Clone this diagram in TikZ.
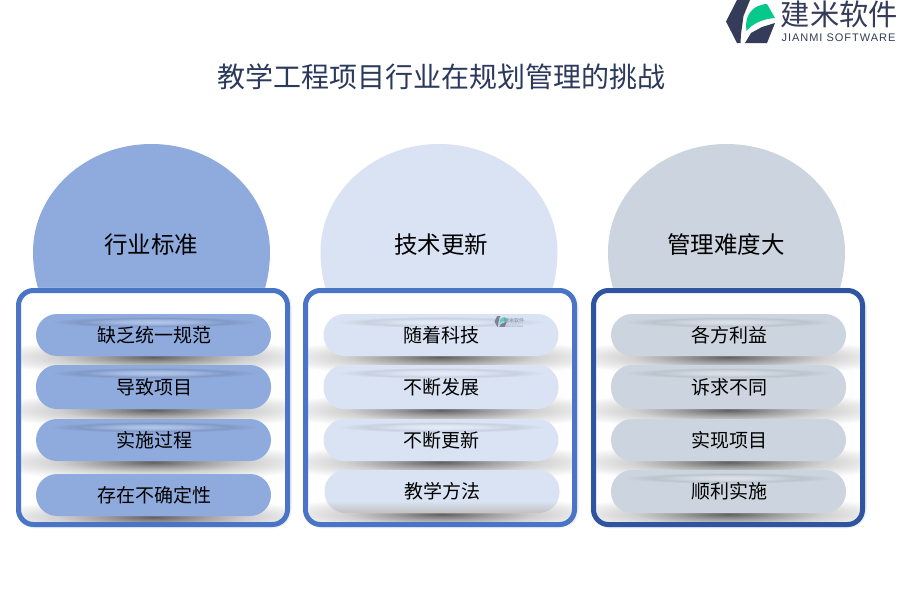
\documentclass[tikz,border=0pt]{standalone}
\usepackage{fontspec}
\setmainfont{Liberation Sans}
\newfontfamily\cjkf{Noto Sans CJK SC}
\definecolor{cA}{HTML}{8FAADC}
\definecolor{cB}{HTML}{DAE3F3}
\definecolor{cC}{HTML}{CCD5DF}
\definecolor{bA}{HTML}{4A74C6}
\definecolor{bC}{HTML}{2F55A0}
\definecolor{inkT}{HTML}{2B3A5C}
\definecolor{logoD}{HTML}{343C5A}
\definecolor{logoG}{HTML}{05C98A}
\pgfdeclareradialshading{bandshade}{\pgfpoint{0bp}{0bp}}{
  color(0bp)=(black!62);color(4bp)=(black!52);color(10bp)=(black!36);color(18bp)=(black!18);
  color(25bp)=(black!9);color(33bp)=(white);color(50bp)=(white)}
\pgfdeclareradialshading{glossA}{\pgfpoint{0bp}{0bp}}{
  color(0bp)=(cA!65!white);color(9bp)=(cA!82!white);color(18bp)=(cA!90!black);color(25bp)=(cA);color(50bp)=(cA)}
\pgfdeclareradialshading{glossB}{\pgfpoint{0bp}{0bp}}{
  color(0bp)=(cB!65!white);color(9bp)=(cB!92!white);color(18bp)=(cB!92!black);color(25bp)=(cB);color(50bp)=(cB)}
\pgfdeclareradialshading{glossC}{\pgfpoint{0bp}{0bp}}{
  color(0bp)=(cC!65!white);color(9bp)=(cC!92!white);color(18bp)=(cC!92!black);color(25bp)=(cC);color(50bp)=(cC)}
\tikzset{
  discLabel/.style={font=\cjkf\fontsize{23.5}{26}\selectfont,inner sep=0pt,text=black},
  panel/.style={draw=#1,line width=5pt,rounded corners=15pt},
  glow/.style={draw=#1!10,line width=6.5pt,rounded corners=16pt},
  pill/.style={rectangle,rounded corners=21pt,fill=#1,inner sep=0pt},
  pillLabel/.style={font=\cjkf\fontsize{19}{22}\selectfont,inner sep=0pt,text=black},
  maintitle/.style={font=\cjkf\fontsize{28}{30}\selectfont,text=inkT,inner sep=0pt}
}
\newcommand{\discshape}[2]{%
  \fill[#2] (#1-118.5,252) arc [start angle=180,end angle=0,x radius=118.5pt,y radius=108pt]
    arc [start angle=0,end angle=-180,x radius=118.5pt,y radius=125pt] -- cycle;
}
\newcommand{\bandunder}[2]{%
  \begin{scope}
    \clip (#1-133,#2-14) rectangle (#1+133,{min(#2+15,522)});
    \shade[shading=bandshade] (#1-133,#2-13) rectangle (#1+133,#2+15);
  \end{scope}
}
% cx, top, bottom, colour, gloss shading, name, text
\newcommand{\pillrow}[7]{%
  \bandunder{#1}{#3}
  \node[pill=#4,minimum width=235pt,minimum height={(#3-#2)*1pt}] (#6) at (#1,{(#2+#3)/2}) {};
  \shade[shading=#5] (#1,#2+8) ellipse [x radius=104pt,y radius=5.5pt];
  \node[pillLabel] (#6t) at (#1+.5,{(#2+#3)/2}) {#7};
}
\newcommand{\pillplain}[6]{%
  \bandunder{#1}{#3}
  \node[pill=#4,minimum width=235pt,minimum height={(#3-#2)*1pt}] (#5) at (#1,{(#2+#3)/2}) {};
  \node[pillLabel] (#5t) at (#1+.5,{(#2+#3)/2}) {#6};
}
\newcommand{\logoshapes}{%
  \fill[logoD] (737,0) -- (750,0) -- (743.5,16) -- (741,34) -- (740.5,43) -- (737,43) -- (726,21.5) -- cycle;
  \fill[logoD] (745,43) -- (751,33) -- (762,27) -- (775,23) -- (767,43) -- cycle;
  \fill[logoG] (746.5,31) .. controls (745,20) and (748,12) .. (756,7) .. controls (760,5) and (764,4) .. (767,4) -- (775,18) .. controls (762,19) and (752,24) .. (746.5,31) -- cycle;
}
\begin{document}
\begin{tikzpicture}[x=1pt,y=-1pt]
\useasboundingbox (0,0) rectangle (900,600);
\fill[white] (0,0) rectangle (900,600);
% logo
\logoshapes
\node[font=\cjkf\fontsize{29.3}{30}\selectfont,text=logoD,inner sep=0pt] (brand) at (839.5,14.5) {建米软件};
\node[font=\fontsize{11}{12}\selectfont\addfontfeatures{LetterSpace=9},text=logoD,inner sep=0pt] (brandsub) at (838.5,38) {JIANMI SOFTWARE};
% title
\node[maintitle] (title) at (441.5,76.5) {教学工程项目行业在规划管理的挑战};
% discs
\discshape{151.5}{cA}
\discshape{439}{cB}
\discshape{726.5}{cC}
\node[discLabel] (d1t) at (151,245) {行业标准};
\node[discLabel] (d2t) at (441,245) {技术更新};
\node[discLabel] (d3t) at (726,245) {管理难度大};
% panels: glow and white ground
\draw[glow=bA] (19,291) rectangle (288.5,525);
\draw[glow=bA] (306,291) rectangle (575.5,525);
\draw[glow=bC] (594,291) rectangle (863.5,525);
\fill[white,rounded corners=15pt] (18.5,290.5) rectangle (287.5,524.5);
\fill[white,rounded corners=15pt] (305.5,290.5) rectangle (574.5,524.5);
\fill[white,rounded corners=15pt] (593.5,290.5) rectangle (862.5,524.5);
% column 1
\pillrow{153.5}{314}{356}{cA}{glossA}{a1}{缺乏统一规范}
\pillrow{153.5}{365}{409}{cA}{glossA}{a2}{导致项目}
\pillrow{153.5}{419}{461}{cA}{glossA}{a3}{实施过程}
\pillplain{153.5}{474}{516}{cA}{a4}{存在不确定性}
% column 2
\pillrow{441}{314}{356}{cB}{glossB}{b1}{随着科技}
\pillrow{441}{365}{409}{cB}{glossB}{b2}{不断发展}
\pillrow{441}{419}{461}{cB}{glossB}{b3}{不断更新}
\bandunder{442}{513}
\node[pill=cB,minimum width=235pt,minimum height=43pt] (b4) at (442,491.5) {};
\begin{scope}
  \clip[rounded corners=21pt] (324.5,470) rectangle (559.5,513);
  \shade[top color=cB,bottom color=black!25] (324,501) rectangle (560,513.5);
\end{scope}
\node[pillLabel] (b4t) at (442.5,491.5) {教学方法};
% column 3
\pillrow{728.5}{314}{356}{cC}{glossC}{c1}{各方利益}
\pillrow{728.5}{365}{409}{cC}{glossC}{c2}{诉求不同}
\pillplain{728.5}{419}{461}{cC}{c3}{实现项目}
\pillrow{728.5}{470}{513}{cC}{glossC}{c4}{顺利实施}
% panel outlines
\draw[panel=bA] (18.5,290.5) rectangle (287.5,524.5);
\draw[panel=bA] (305.5,290.5) rectangle (574.5,524.5);
\draw[panel=bC] (593.5,290.5) rectangle (862.5,524.5);
% watermark
\begin{scope}[shift={(313,316)},scale=.25,opacity=.55]
  \logoshapes
\end{scope}
\node[font=\cjkf\fontsize{5}{6}\selectfont,text=logoD,opacity=.55,inner sep=0pt] (wm) at (514,321) {建米软件};
\node[font=\fontsize{2}{3}\selectfont,text=logoD,opacity=.5,inner sep=0pt] (wms) at (514,327) {JIANMI SOFTWARE};
\end{tikzpicture}
\end{document}
